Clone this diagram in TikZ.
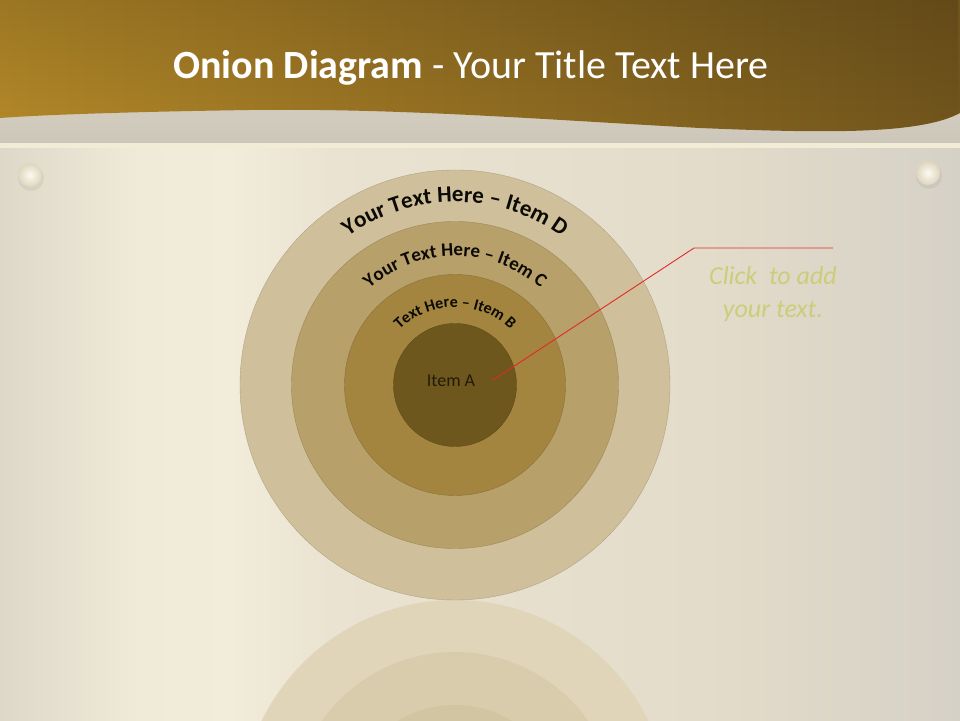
\documentclass[tikz,border=0pt]{standalone}
\usepackage{fontspec}
\setmainfont{Carlito}
\usetikzlibrary{decorations.text,fadings,shadings}
\definecolor{stripT}{RGB}{214,208,194}
\definecolor{stripB}{RGB}{204,198,186}
\definecolor{lineC}{RGB}{242,236,214}
\definecolor{hdL}{RGB}{178,135,40}
\definecolor{hdR}{RGB}{112,84,28}
\definecolor{boltIn}{RGB}{252,250,240}
\definecolor{boltOut}{RGB}{222,213,190}
\definecolor{ringD}{RGB}{207,192,155}
\definecolor{ringC}{RGB}{183,160,106}
\definecolor{ringB}{RGB}{164,133,64}
\definecolor{ringA}{RGB}{110,87,28}
\definecolor{reflD}{RGB}{224,213,185}
\definecolor{reflC}{RGB}{216,204,172}
\definecolor{reflB}{RGB}{210,197,162}
\definecolor{clickC}{RGB}{204,204,122}
\definecolor{ptrC}{RGB}{226,40,40}
\definecolor{txtC}{RGB}{12,10,5}
\definecolor{txtA}{RGB}{35,26,10}
\pgfdeclarehorizontalshading{bgshade}{100bp}{rgb(0bp)=(.871,.847,.792); rgb(25bp)=(.871,.847,.792); rgb(32.3bp)=(.941,.918,.847); rgb(37bp)=(.949,.925,.855); rgb(42.2bp)=(.918,.890,.820); rgb(61.5bp)=(.894,.863,.792); rgb(75bp)=(.839,.820,.780); rgb(100bp)=(.839,.820,.780)}
\tikzfading[name=topdark, top color=transparent!0, bottom color=transparent!100]
\begin{document}
\begin{tikzpicture}[x=1pt,y=1pt,
  ring/.style={circle, inner sep=0pt, draw=#1!85!black, line width=0.4pt, fill=#1},
  refl/.style={fill=#1},
  curvetxt/.style={decorate, decoration={text along path, text align=center, text color=txtC, text={#1}}},
  pointer/.style={draw=ptrC, line width=0.9pt},
  bolt/.style={inner color=boltIn, outer color=boltOut}]
\useasboundingbox (0,0) rectangle (960,720);
% background
\shade[shading=bgshade] (0,0) rectangle (960,720);
% strip under the header
\shade[top color=stripT, bottom color=stripB] (0,577) rectangle (960,620);
\fill[lineC] (0,572) rectangle (960,577);
% header band
\shade[left color=hdL, right color=hdR] (960,720) -- (960,607) .. controls (920,585) and (820,587) .. (700,592) .. controls (550,600) and (400,612) .. (250,610) .. controls (120,608) and (40,605) .. (0,602) -- (0,720) -- cycle;
\fill[black, opacity=.12, path fading=topdark] (0,720) rectangle (960,600);
\node[text=white, font=\fontsize{40}{46}\selectfont] (title) at (471,652) {\textbf{Onion Diagram} - Your Title Text Here};
% bolts
\fill[black, opacity=.05] (31,542) circle (13);
\shade[bolt] (30,545) circle (12);
\fill[black, opacity=.05] (929,544) circle (13);
\shade[bolt] (928,547) circle (12);
% reflection
\begin{scope}
\clip (0,0) rectangle (960,122);
\fill[refl=reflD] (455,-95) circle (215);
\fill[refl=reflC] (455,-95) circle (163);
\fill[refl=reflB] (455,-95) circle (110);
\end{scope}
% onion rings
\node[ring=ringD, minimum size=430] (d) at (455,335) {};
\node[ring=ringC, minimum size=327] (c) at (455,335) {};
\node[ring=ringB, minimum size=221] (b) at (455,335) {};
\node[ring=ringA, minimum size=123] (a) at (455,335) {};
\path[curvetxt={|\fontsize{23}{27}\selectfont\bfseries|Your Text Here – Item D}] (273,336) arc (180:0:182);
\path[curvetxt={|\fontsize{19}{22}\selectfont\bfseries|Your Text Here – Item C}] (326,335) arc (180:0:129);
\path[curvetxt={|\fontsize{16}{19}\selectfont\bfseries|Text Here – Item B}] (377,335) arc (180:0:78);
\node[text=txtA, font=\fontsize{18}{21}\selectfont] (itemA) at (451,339) {Item A};
% pointer
\coordinate (ptr) at (493,340);
\coordinate (elbow) at (694,472);
\coordinate (lend) at (833,472);
\draw[pointer] (ptr) -- (elbow) -- (lend);
\node[text=clickC, align=center, font=\fontsize{26}{33}\selectfont\itshape] (click) at (773,426) {Click\ \ to add\\your text.};
\end{tikzpicture}
\end{document}
